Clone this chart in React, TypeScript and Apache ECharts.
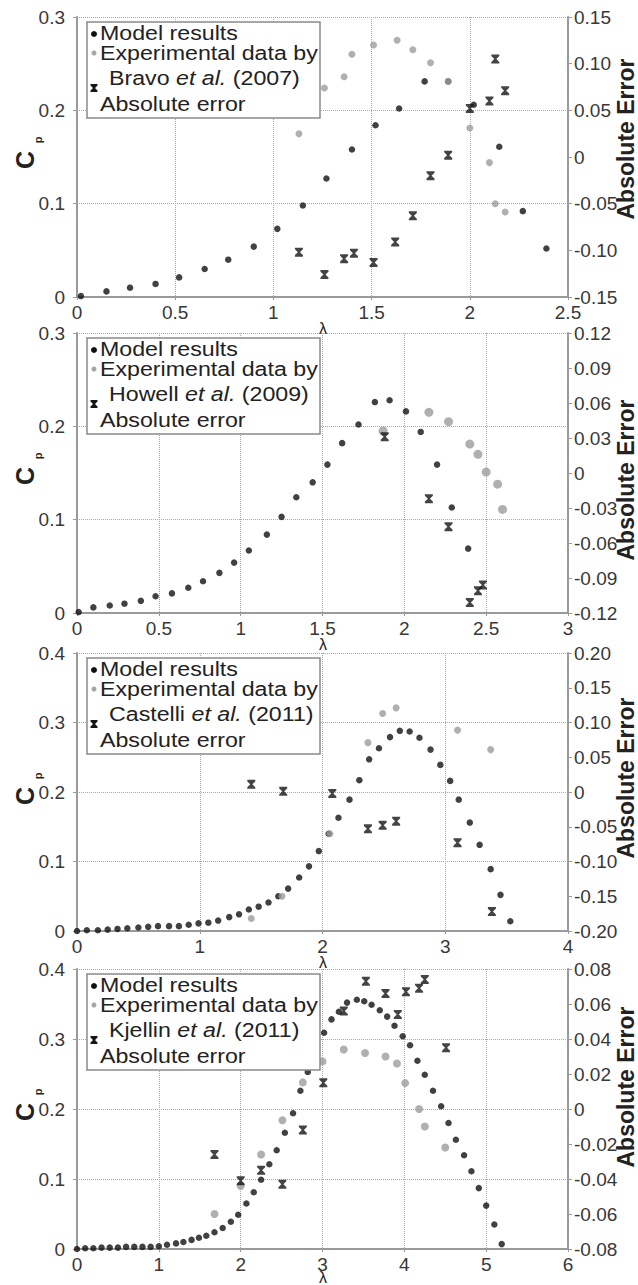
import React, { useEffect, useRef } from "react";
import * as echarts from "echarts";

// ---------- Data ----------
// Panel 1: Bravo et al. (2007)
const model1X = [0.02, 0.15, 0.27, 0.40, 0.52, 0.65, 0.77, 0.90, 1.02, 1.15, 1.27, 1.40, 1.52, 1.64, 1.77, 1.89, 2.02, 2.15, 2.27, 2.39];
const model1Y = [0.001, 0.006, 0.010, 0.014, 0.021, 0.030, 0.040, 0.054, 0.073, 0.098, 0.127, 0.158, 0.184, 0.202, 0.231, 0.231, 0.206, 0.161, 0.092, 0.052];
const exp1X = [1.13, 1.26, 1.36, 1.40, 1.51, 1.63, 1.71, 1.80, 1.89, 2.00, 2.10, 2.13, 2.18];
const exp1Y = [0.175, 0.224, 0.236, 0.260, 0.270, 0.275, 0.265, 0.251, 0.231, 0.181, 0.144, 0.100, 0.091];
const err1X = [1.13, 1.26, 1.36, 1.41, 1.51, 1.62, 1.71, 1.80, 1.89, 2.00, 2.10, 2.13, 2.18];
const err1Y = [-0.102, -0.126, -0.109, -0.103, -0.113, -0.091, -0.063, -0.020, 0.002, 0.052, 0.060, 0.105, 0.071];

// Panel 2: Howell et al. (2009)
const model2X = [0.01, 0.10, 0.20, 0.29, 0.39, 0.48, 0.58, 0.68, 0.77, 0.87, 0.96, 1.05, 1.16, 1.25, 1.34, 1.44, 1.53, 1.62, 1.72, 1.82, 1.91, 2.01, 2.10, 2.20, 2.29, 2.39];
const model2Y = [0.001, 0.006, 0.008, 0.010, 0.013, 0.018, 0.021, 0.027, 0.034, 0.043, 0.054, 0.067, 0.084, 0.103, 0.124, 0.140, 0.159, 0.182, 0.202, 0.226, 0.228, 0.216, 0.194, 0.159, 0.113, 0.069];
const exp2X = [1.87, 2.15, 2.27, 2.40, 2.45, 2.50, 2.57, 2.60];
const exp2Y = [0.195, 0.215, 0.205, 0.181, 0.170, 0.151, 0.138, 0.111];
const err2X = [1.88, 2.15, 2.27, 2.40, 2.45, 2.48];
const err2Y = [0.031, -0.022, -0.046, -0.111, -0.101, -0.096];

// Panel 3: Castelli et al. (2011)
const model3X = [0.00, 0.08, 0.17, 0.25, 0.33, 0.41, 0.50, 0.58, 0.66, 0.75, 0.83, 0.91, 0.99, 1.07, 1.15, 1.24, 1.32, 1.40, 1.48, 1.56, 1.64, 1.72, 1.81, 1.89, 1.97, 2.05, 2.13, 2.22, 2.30, 2.38, 2.46, 2.55, 2.63, 2.71, 2.79, 2.88, 2.96, 3.04, 3.11, 3.20, 3.28, 3.37, 3.45, 3.53];
const model3Y = [0.000, 0.001, 0.001, 0.002, 0.003, 0.004, 0.005, 0.006, 0.007, 0.007, 0.007, 0.009, 0.011, 0.012, 0.015, 0.020, 0.024, 0.031, 0.035, 0.041, 0.050, 0.061, 0.077, 0.093, 0.115, 0.140, 0.163, 0.189, 0.217, 0.247, 0.263, 0.279, 0.288, 0.287, 0.278, 0.261, 0.239, 0.216, 0.189, 0.156, 0.124, 0.089, 0.052, 0.014];
const exp3X = [1.42, 1.67, 2.06, 2.37, 2.49, 2.60, 3.10, 3.37];
const exp3Y = [0.018, 0.050, 0.140, 0.271, 0.313, 0.321, 0.289, 0.261];
const err3X = [1.42, 1.68, 2.08, 2.37, 2.49, 2.60, 3.10, 3.38];
const err3Y = [0.011, 0.001, -0.002, -0.053, -0.048, -0.042, -0.073, -0.172];

// Panel 4: Kjellin et al. (2011)
const model4X = [0.00, 0.10, 0.20, 0.30, 0.40, 0.50, 0.60, 0.70, 0.80, 0.90, 1.00, 1.10, 1.21, 1.30, 1.40, 1.49, 1.58, 1.68, 1.78, 1.88, 1.97, 2.07, 2.16, 2.25, 2.35, 2.44, 2.54, 2.64, 2.73, 2.82, 2.92, 3.02, 3.11, 3.20, 3.30, 3.42, 3.51, 3.60, 3.70, 3.79, 3.88, 3.98, 4.07, 4.16, 4.25, 4.35, 4.45, 4.54, 4.63, 4.73, 4.82, 4.91, 5.00, 5.10, 5.19];
const model4Y = [0.000, 0.001, 0.001, 0.002, 0.002, 0.002, 0.003, 0.003, 0.003, 0.003, 0.004, 0.006, 0.008, 0.010, 0.013, 0.016, 0.019, 0.024, 0.030, 0.039, 0.049, 0.065, 0.081, 0.099, 0.121, 0.141, 0.166, 0.194, 0.226, 0.253, 0.283, 0.309, 0.328, 0.339, 0.352, 0.356, 0.354, 0.349, 0.341, 0.332, 0.319, 0.304, 0.291, 0.269, 0.249, 0.226, 0.204, 0.180, 0.156, 0.134, 0.111, 0.087, 0.062, 0.035, 0.007];
const exp4X = [1.68, 2.00, 2.25, 2.51, 2.76, 3.00, 3.26, 3.52, 3.77, 3.91, 4.01, 4.18, 4.25, 4.50];
const exp4Y = [0.050, 0.090, 0.135, 0.184, 0.238, 0.268, 0.285, 0.280, 0.275, 0.265, 0.237, 0.200, 0.175, 0.145];
const err4X = [1.68, 2.00, 2.25, 2.51, 2.76, 3.01, 3.26, 3.53, 3.77, 3.92, 4.02, 4.18, 4.25, 4.51];
const err4Y = [-0.026, -0.041, -0.035, -0.043, -0.012, 0.015, 0.056, 0.073, 0.066, 0.054, 0.067, 0.069, 0.074, 0.035];

// Axis settings
const xMax = [2.5, 3, 4, 6];
const xInterval = [0.5, 0.5, 1, 1];
const cpMax = [0.3, 0.3, 0.4, 0.4];
const cpInterval = [0.1, 0.1, 0.1, 0.1];
const errMin = [-0.15, -0.12, -0.2, -0.08];
const errMax = [0.15, 0.12, 0.2, 0.08];
const errInterval = [0.05, 0.03, 0.05, 0.02];

// Legend texts
const authors = ["Bravo", "Howell", "Castelli", "Kjellin"];
const years = ["2007", "2009", "2011", "2011"];
const legendModel = "Model results";
const legendExp = "Experimental data by";
const legendErr = "Absolute error";
const xName = "λ";
const leftName = "C";
const leftSub = "p";
const rightName = "Absolute Error";

// ---------- Layout ----------
const W = 638;
const H = 1285;
const GRID_LEFT = 77;
const GRID_W = 491;
const panelTop = [17, 333, 653, 969];
const panelH = [280, 280, 278, 280];
const rightNameOffset = [122, 147, 125, 118];
const lambdaOffset = [31, 31, 31, 28];
const expSize = [7, 9, 7, 8];
const FONT = "'Liberation Sans', Arial, sans-serif";

const zip = (xs: number[], ys: number[]) => xs.map((x, i) => [x, ys[i]]);

const modelX = [model1X, model2X, model3X, model4X];
const modelY = [model1Y, model2Y, model3Y, model4Y];
const expX = [exp1X, exp2X, exp3X, exp4X];
const expY = [exp1Y, exp2Y, exp3Y, exp4Y];
const errX = [err1X, err2X, err3X, err4X];
const errY = [err1Y, err2Y, err3Y, err4Y];

const HOURGLASS = "path://M0,0 L10,0 L10,1.8 L6.3,5 L10,8.2 L10,10 L0,10 L0,8.2 L3.7,5 L0,1.8 Z";

const fmtX = (v: number) => {
  const r = Math.round(v * 100) / 100;
  return String(r);
};
const fmtCp = (v: number) => {
  const r = Math.round(v * 10) / 10;
  return r === 0 ? "0" : r.toFixed(1);
};
const fmtErr = (v: number) => {
  if (Math.abs(v) < 1e-9) return "0";
  return v.toFixed(2);
};

export default function App() {
  const ref = useRef<HTMLDivElement>(null);

  useEffect(() => {
    if (!ref.current) return;
    const chart = echarts.init(ref.current, null, { renderer: "svg" });

    const grids: any[] = [];
    const xAxes: any[] = [];
    const yAxes: any[] = [];
    const series: any[] = [];
    const graphics: any[] = [];

    const axisLineStyle = { color: "#9a9a9a", width: 2 };
    const labelStyle = { fontFamily: FONT, fontSize: 19, color: "#383838" };

    for (let i = 0; i < 4; i++) {
      const T = panelTop[i];
      const Hh = panelH[i];
      grids.push({ left: GRID_LEFT, top: T, width: GRID_W, height: Hh, containLabel: false });

      xAxes.push({
        gridIndex: i,
        type: "value",
        min: 0,
        max: xMax[i],
        interval: xInterval[i],
        axisLine: { show: true, onZero: false, lineStyle: axisLineStyle },
        axisTick: { show: true, length: 3, lineStyle: { color: "#9a9a9a" } },
        splitLine: { show: true, lineStyle: { type: "dotted", color: "#a8a8a8", width: 1 } },
        axisLabel: { ...labelStyle, margin: 6, formatter: fmtX },
      });

      yAxes.push({
        gridIndex: i,
        type: "value",
        position: "left",
        min: 0,
        max: cpMax[i],
        interval: cpInterval[i],
        axisLine: { show: true, lineStyle: axisLineStyle },
        axisTick: { show: true, length: 4, lineStyle: { color: "#9a9a9a" } },
        splitLine: { show: true, lineStyle: { type: "dotted", color: "#a8a8a8", width: 1 } },
        axisLabel: { ...labelStyle, margin: 12, formatter: fmtCp },
      });

      yAxes.push({
        gridIndex: i,
        type: "value",
        position: "right",
        min: errMin[i],
        max: errMax[i],
        interval: errInterval[i],
        axisLine: { show: true, lineStyle: axisLineStyle },
        axisTick: { show: true, length: 4, lineStyle: { color: "#9a9a9a" } },
        splitLine: { show: false },
        axisLabel: { ...labelStyle, margin: 6, formatter: fmtErr },
      });

      series.push({
        name: legendModel,
        type: "scatter",
        xAxisIndex: i,
        yAxisIndex: 2 * i,
        data: zip(modelX[i], modelY[i]),
        symbol: "circle",
        symbolSize: 6.5,
        itemStyle: { color: "#111" },
        z: 3,
      });
      series.push({
        name: legendExp,
        type: "scatter",
        xAxisIndex: i,
        yAxisIndex: 2 * i,
        data: zip(expX[i], expY[i]),
        symbol: "circle",
        symbolSize: expSize[i],
        itemStyle: { color: "#9c9c9c" },
        z: 4,
      });
      series.push({
        name: legendErr,
        type: "scatter",
        xAxisIndex: i,
        yAxisIndex: 2 * i + 1,
        data: zip(errX[i], errY[i]),
        symbol: HOURGLASS,
        symbolSize: [8, 9],
        itemStyle: { color: "#151515" },
        z: 5,
      });

      // Legend box
      const legendText = (text: string, x: number, y: number) => ({
        type: "text",
        x,
        y,
        scaleX: 1.16,
        z: 102,
        style: {
          text,
          fontFamily: FONT,
          fontSize: 20,
          fill: "#222",
          textAlign: "left",
          textVerticalAlign: "middle",
        },
      });
      graphics.push({
        type: "rect",
        z: 100,
        shape: { x: 87, y: T + 5, width: 233, height: 96 },
        style: { fill: "#fff", stroke: "#8a8a8a", lineWidth: 1.5 },
      });
      graphics.push(legendText(legendModel, 100, T + 16));
      graphics.push(legendText(legendExp, 100, T + 36));
      graphics.push({
        type: "text",
        x: 109,
        y: T + 61,
        scaleX: 1.16,
        z: 102,
        style: {
          text: `{n|${authors[i]} }{it|et al.}{n| (${years[i]})}`,
          fontFamily: FONT,
          fontSize: 20,
          fill: "#222",
          textAlign: "left",
          textVerticalAlign: "middle",
          rich: {
            n: { fontFamily: FONT, fontSize: 20, fill: "#222" },
            it: { fontFamily: FONT, fontSize: 20, fill: "#222", fontStyle: "italic" },
          },
        },
      });
      graphics.push(legendText(legendErr, 100, T + 87));
      graphics.push({
        type: "circle",
        z: 102,
        shape: { cx: 94, cy: T + 17, r: 3 },
        style: { fill: "#111" },
      });
      graphics.push({
        type: "circle",
        z: 102,
        shape: { cx: 94, cy: T + 36, r: 2.5 },
        style: { fill: "#a5a5a5" },
      });
      graphics.push({
        type: "polygon",
        z: 102,
        shape: {
          points: [
            [90.5, T + 67], [97.5, T + 67], [97.5, T + 68.4], [95, T + 71], [97.5, T + 73.6],
            [97.5, T + 75], [90.5, T + 75], [90.5, T + 73.6], [93, T + 71], [90.5, T + 68.4],
          ],
        },
        style: { fill: "#151515" },
      });

      // Axis names
      graphics.push({
        type: "text",
        x: 25,
        y: T + 143,
        rotation: Math.PI / 2,
        z: 90,
        style: {
          text: leftName,
          fontFamily: FONT,
          fontSize: 25,
          fontWeight: "bold",
          fill: "#222",
          textAlign: "center",
          textVerticalAlign: "middle",
        },
      });
      graphics.push({
        type: "text",
        x: 38,
        y: T + 123,
        rotation: Math.PI / 2,
        z: 90,
        style: {
          text: leftSub,
          fontFamily: FONT,
          fontSize: 11,
          fontWeight: "bold",
          fill: "#222",
          textAlign: "center",
          textVerticalAlign: "middle",
        },
      });
      graphics.push({
        type: "text",
        x: 626,
        y: T + rightNameOffset[i],
        rotation: Math.PI / 2,
        z: 90,
        style: {
          text: rightName,
          fontFamily: FONT,
          fontSize: 23,
          fontWeight: "bold",
          fill: "#222",
          textAlign: "center",
          textVerticalAlign: "middle",
        },
      });
      graphics.push({
        type: "text",
        x: 323,
        y: T + Hh + lambdaOffset[i],
        z: 90,
        style: {
          text: xName,
          fontFamily: FONT,
          fontSize: 16,
          fill: "#222",
          textAlign: "center",
          textVerticalAlign: "middle",
        },
      });
    }

    chart.setOption({
      animation: false,
      backgroundColor: "#fff",
      grid: grids,
      xAxis: xAxes,
      yAxis: yAxes,
      series,
      graphic: { elements: graphics },
    });

    return () => chart.dispose();
  }, []);

  return (
    <div
      ref={ref}
      style={{ position: "absolute", left: 0, top: 0, width: W, height: H, background: "#fff" }}
    />
  );
}
